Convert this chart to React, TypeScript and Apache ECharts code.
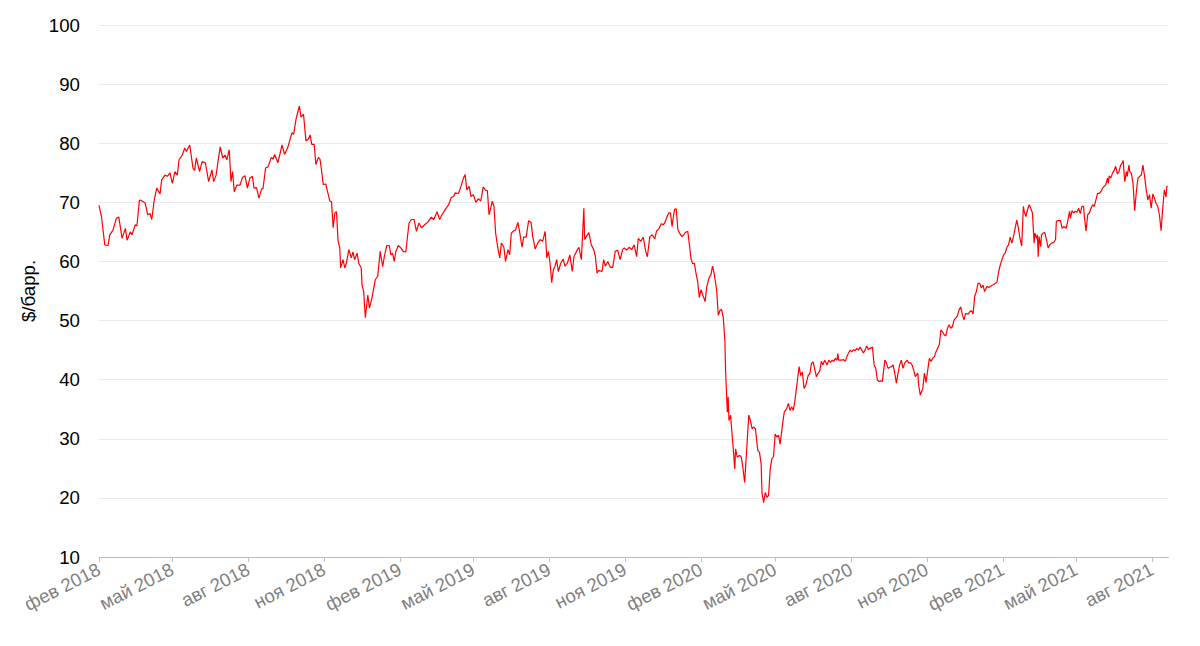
import React, { useEffect, useRef } from "react";
import * as echarts from "echarts";

// Day offsets are counted from 1 Feb 2018
const START_DATE = "2018-02-01";
const AXIS_END_DAY = 1297;

const tickDates = [
  "2018-02-01", "2018-05-01", "2018-08-01", "2018-11-01",
  "2019-02-01", "2019-05-01", "2019-08-01", "2019-11-01",
  "2020-02-01", "2020-05-01", "2020-08-01", "2020-11-01",
  "2021-02-01", "2021-05-01", "2021-08-01",
];
const tickLabels = [
  "фев 2018", "май 2018", "авг 2018", "ноя 2018",
  "фев 2019", "май 2019", "авг 2019", "ноя 2019",
  "фев 2020", "май 2020", "авг 2020", "ноя 2020",
  "фев 2021", "май 2021", "авг 2021",
];

const days2018 = [0,3,7,11,13,17,21,24,28,32,34,38,40,44,46,49,51,56,59,62,64,67,70,74,76,80,83,86,89,92,95,97,101,104,106,110,114,116,118,122,125,129,133,137,139,142,144,147,150,153,155,158,160,162,164,167,171,174,177,180,183,186,188,191,194,197,199,202,205,209,211,213,217,222,225,229,234,236,239,243,245,248,251,254,256,258,261,263,266,268,270,272,275,277,280,282,284,286,288,290,292,293,296,298,300,303,306,308,310,313,315,318,319,321,322,323,326,328,331];
const brent2018 = [69.5,67.6,62.8,62.7,64.5,65.3,67.3,67.5,63.9,65.6,63.6,65.0,64.5,66.2,66.0,70.4,70.3,69.9,67.9,68.1,67.1,70.4,72.4,71.4,73.8,74.6,74.4,75.0,73.2,75.2,74.6,77.2,78.0,79.2,78.6,79.7,75.8,75.4,77.5,75.2,76.9,76.7,73.5,75.5,73.5,74.6,76.6,79.4,77.5,78.0,77.2,78.9,73.5,75.2,71.8,72.9,72.9,74.2,74.5,72.4,74.1,74.4,72.4,72.5,70.7,72.2,72.4,75.8,76.0,77.6,77.3,78.1,76.7,79.7,78.1,79.3,81.8,81.5,84.1,86.3,84.4,84.9,80.4,80.7,81.4,79.8,79.8,76.4,77.6,77.3,75.3,73.0,73.1,71.9,70.2,70.1,65.7,68.2,68.4,63.4,62.3,58.9,60.3,58.9,59.7,62.0,60.6,61.6,60.3,61.4,59.7,58.9,56.0,54.9,52.6,50.5,54.3,52.1,53.8];

const days2019 = [335,338,341,344,346,349,352,354,356,358,360,363,366,369,372,376,379,382,385,388,391,395,399,403,406,410,413,416,420,424,427,430,432,436,439,442,444,446,449,451,454,457,460,463,466,469,471,473,475,477,479,481,484,486,488,491,493,496,498,500,503,505,508,510,513,515,518,521,524,526,529,532,535,538,541,542,543,545,547,549,551,553,555,557,560,563,565,568,571,574,576,579,582,585,588,589,591,594,597,600,602,604,606,610,612,614,617,620,623,626,629,632,635,637,640,643,646,649,652,654,657,660,663,665,668,671,674,676,679,682,684,686,689,691,693,695,696,698];
const brent2019 = [56.9,57.5,61.7,59.1,60.8,62.7,62.7,61.1,61.4,60.0,61.7,62.7,62.3,61.7,61.6,66.5,67.1,67.1,65.1,66.5,65.7,66.2,66.7,67.5,67.1,68.4,67.1,67.9,68.8,69.6,70.8,71.0,71.6,71.5,72.7,74.1,74.7,72.1,72.7,71.0,71.3,70.0,70.6,70.2,72.6,72.0,72.0,67.9,69.0,70.2,69.3,64.8,62.0,60.6,63.1,62.4,60.0,62.0,61.1,64.8,65.2,65.3,66.6,65.1,62.4,64.1,64.1,66.9,66.6,64.2,62.1,63.1,63.7,63.4,65.1,63.1,60.6,61.7,59.7,56.4,58.6,59.2,60.3,58.3,59.7,60.4,59.2,59.7,61.1,58.3,60.8,61.7,62.4,60.3,69.0,63.7,64.2,64.9,62.8,62.0,60.8,58.0,58.5,58.3,60.3,59.2,60.0,59.0,59.0,61.7,61.9,60.3,62.0,62.3,61.9,62.4,62.0,62.8,60.8,63.9,63.4,64.1,61.7,60.8,64.2,64.5,63.8,65.1,65.5,66.4,66.2,66.5,67.6,68.2,68.2,65.9,67.1,68.8];

const days2020 = [700,702,704,707,709,711,714,716,718,720,722,724,726,728,730,733,735,737,740,742,744,746,749,751,753,755,757,759,760,762,763,764,766,767,769,771,772,774,777,779,781,783,788,790,792,794,796,799,801,803,804,806,808,810,812,814,816,818,820,822,824,826,829,831,834,836,838,840,842,844,847,849,851,853,855,857,860,862,864,866,870,872,874,876,878,880,883,885,887,889,891,893,895,896,897,900,903,905,907,909,911,913,915,917,919,921,923,925,927,929,931,933,935,938,940,942,944,946,948,950,953,955,957,959,961,963,965,967,969,971,973,975,977,980,982,984,986,988,990,993,994,996,999,1001,1003,1005,1007,1009,1011,1013,1015,1017,1019,1021,1023,1025,1027,1029,1031,1033,1035,1037,1039,1041,1043,1045,1047,1049,1051,1054,1056,1058,1060,1062,1064];
const brent2020 = [68.9,65.4,64.8,64.2,64.5,64.9,65.1,62.8,60.4,59.6,59.7,58.0,56.6,53.9,55.2,54.0,53.2,55.7,57.3,57.7,59.2,58.0,55.2,50.9,51.7,51.9,50.6,46.7,41.0,34.5,37.1,33.1,34.0,32.0,28.6,24.9,28.3,26.9,27.2,26.9,24.9,22.6,34.0,33.1,31.7,32.0,31.7,28.0,27.7,25.7,20.9,19.2,20.9,20.1,20.4,24.9,26.6,27.0,30.8,30.3,30.6,29.1,32.5,34.5,35.1,36.0,34.8,35.4,34.8,36.5,39.9,42.2,40.7,41.3,38.5,39.0,40.7,41.0,42.7,43.0,40.5,41.1,41.4,43.1,42.5,43.3,42.5,43.3,42.9,43.3,43.1,43.6,43.3,44.4,43.3,43.3,43.4,43.1,43.9,44.5,45.0,44.7,45.1,44.9,45.3,45.0,45.5,45.0,44.5,45.0,45.7,45.1,45.3,45.5,42.5,41.9,39.9,39.7,39.8,39.7,43.3,42.8,41.9,42.1,42.2,42.5,41.1,39.4,41.1,42.5,43.3,41.9,42.8,43.3,42.8,42.9,42.5,41.6,40.5,41.1,39.1,37.4,38.5,41.1,39.5,41.6,43.6,43.1,43.6,43.9,44.7,45.3,45.9,48.4,48.1,47.6,47.4,48.7,49.3,48.7,49.0,50.1,50.4,50.8,51.8,52.3,51.0,50.1,51.2,51.1,51.5,51.7,51.1,54.1,54.9];

const days2021 = [1066,1068,1070,1072,1074,1077,1079,1081,1085,1089,1091,1093,1095,1097,1099,1101,1103,1105,1107,1109,1111,1113,1115,1117,1119,1121,1122,1124,1126,1128,1130,1132,1134,1135,1137,1138,1139,1140,1142,1143,1145,1147,1149,1151,1153,1155,1158,1160,1161,1163,1166,1168,1170,1173,1175,1177,1178,1180,1182,1184,1186,1188,1190,1192,1194,1195,1197,1199,1201,1203,1205,1207,1209,1211,1213,1215,1217,1219,1221,1223,1224,1225,1227,1229,1231,1233,1235,1237,1239,1241,1242,1244,1246,1247,1249,1250,1252,1254,1256,1258,1260,1262,1264,1266,1268,1270,1272,1274,1276,1278,1280,1282,1284,1286,1288,1290,1292,1294,1295,1296];
const brent2021 = [56.3,56.3,55.5,56.0,54.9,55.8,55.6,55.8,56.1,56.5,58.3,59.4,60.3,61.1,61.4,62.4,62.8,64.1,63.1,64.2,65.6,67.0,65.6,63.8,62.6,69.3,68.5,67.6,68.7,69.6,69.0,68.2,63.1,64.8,63.9,64.5,60.8,64.2,62.5,64.5,64.8,64.9,63.7,62.3,62.8,63.1,63.2,63.7,66.8,66.9,66.9,65.6,65.9,65.6,67.0,68.5,67.3,68.6,68.2,68.5,68.3,69.0,68.1,69.3,69.3,67.6,65.1,67.9,68.2,69.0,69.6,69.3,70.4,71.5,71.5,71.8,72.4,72.7,73.0,74.1,73.2,74.5,74.1,74.9,75.4,76.1,74.8,75.2,76.3,76.7,77.1,73.5,75.2,74.4,76.3,75.2,74.9,73.2,68.6,71.8,74.1,74.4,74.6,76.3,74.4,72.1,70.4,71.3,69.0,71.4,70.7,69.8,69.3,67.9,65.2,69.0,72.1,70.9,72.7,72.7];

const yTicks = { min: 10, max: 100, step: 10 };

const FONT = "'Liberation Sans', Arial, Helvetica, sans-serif";
const DAY_MS = 86400000;

function pairs(days: number[], vals: number[]): [number, number][] {
  const n = Math.min(days.length, vals.length);
  const out: [number, number][] = [];
  for (let i = 0; i < n; i++) out.push([days[i], vals[i]]);
  return out;
}

export default function App() {
  const ref = useRef<HTMLDivElement>(null);

  useEffect(() => {
    if (!ref.current) return;
    const chart = echarts.init(ref.current, null, { renderer: "svg" });
    const start = Date.parse(START_DATE);
    const tickDays = tickDates.map((d) => Math.round((Date.parse(d) - start) / DAY_MS));
    const labelFor = (v: number) => {
      const i = tickDays.findIndex((t) => Math.abs(t - v) < 0.5);
      return i >= 0 ? tickLabels[i] : "";
    };
    const data = [
      ...pairs(days2018, brent2018),
      ...pairs(days2019, brent2019),
      ...pairs(days2020, brent2020),
      ...pairs(days2021, brent2021),
    ];

    chart.setOption({
      animation: false,
      backgroundColor: "#ffffff",
      grid: { left: 99, right: 31.5, top: 25, bottom: 89, outerBoundsMode: "none" },
      xAxis: {
        type: "value",
        min: 0,
        max: AXIS_END_DAY,
        splitLine: { show: false },
        axisLine: { show: true, lineStyle: { color: "#c0c0c0", width: 1 } },
        axisTick: {
          show: true,
          customValues: tickDays,
          length: 5,
          lineStyle: { color: "#c0c0c0" },
        },
        axisLabel: {
          customValues: tickDays,
          formatter: (v: number) => labelFor(v),
          rotate: 27,
          margin: 11,
          color: "#808080",
          fontSize: 18.67,
          fontFamily: FONT,
        },
      },
      yAxis: {
        type: "value",
        min: yTicks.min,
        max: yTicks.max,
        interval: yTicks.step,
        name: "$/барр.",
        nameLocation: "middle",
        nameGap: 54,
        nameTextStyle: { color: "#000000", fontSize: 18.67, fontFamily: FONT },
        axisLine: { show: false },
        axisTick: { show: false },
        axisLabel: { color: "#000000", fontSize: 18.67, fontFamily: FONT, margin: 19 },
        splitLine: { show: true, lineStyle: { color: "#ebebeb", width: 1 } },
      },
      series: [
        {
          type: "line",
          data,
          showSymbol: false,
          symbol: "none",
          smooth: false,
          lineStyle: { color: "#ff0000", width: 1.2 },
          itemStyle: { color: "#ff0000" },
        },
      ],
    });
    return () => chart.dispose();
  }, []);

  return (
    <div
      ref={ref}
      style={{ position: "fixed", left: 0, top: 0, width: 1200, height: 646, background: "#fff" }}
    />
  );
}
